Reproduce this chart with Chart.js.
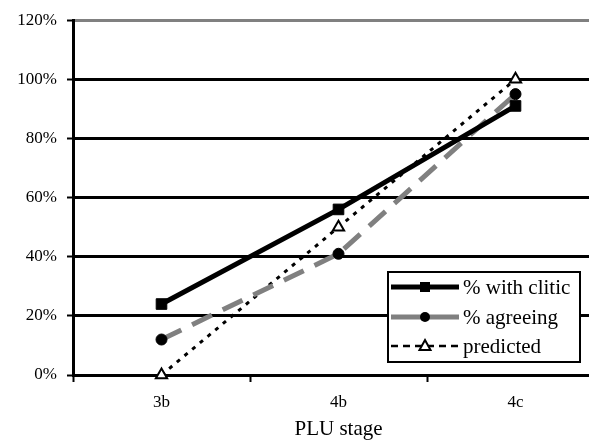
<!DOCTYPE html>
<html>
<head>
<meta charset="utf-8">
<script src="https://cdn.jsdelivr.net/npm/chart.js@4"></script>
<style>
  html, body { margin: 0; padding: 0; background: #fff; overflow: hidden; }
  /* the plot area runs past the right edge in the original, so the canvas is wider and clipped */
  #wrap { width: 589px; height: 440px; overflow: hidden; }
</style>
</head>
<body>
<div id="wrap"><canvas id="chart" width="620" height="440"></canvas></div>
<script>
// PLU stage chart data
const stages = ['3b', '4b', '4c'];
const withClitic = [24, 56, 91];
const agreeing = [12, 41, 95];
const predicted = [0, 50, 100];
const yTicks = [0, 20, 40, 60, 80, 100, 120];

const serif = '"Liberation Serif", "Times New Roman", serif';

// draw legend box inside the plot area, Excel style
const boxLegend = {
    id: 'boxLegend',
    afterDraw(chart) {
        const ctx = chart.ctx;
        const x0 = 388, y0 = 272, w = 192, h = 90;
        ctx.save();
        ctx.fillStyle = '#fff';
        ctx.fillRect(x0, y0, w, h);
        ctx.strokeStyle = '#000';
        ctx.lineWidth = 2;
        ctx.strokeRect(x0, y0, w, h);
        const rows = [287, 317, 346];
        chart.data.datasets.forEach((ds, i) => {
            const y = rows[i];
            ctx.strokeStyle = ds.borderColor;
            ctx.lineWidth = ds.legendWidth || ds.borderWidth;
            ctx.setLineDash(ds.legendDash || []);
            ctx.beginPath();
            ctx.moveTo(391, y);
            ctx.lineTo(459, y);
            ctx.stroke();
            ctx.setLineDash([]);
            // marker
            ctx.fillStyle = ds.pointBackgroundColor;
            ctx.strokeStyle = ds.pointBorderColor;
            ctx.lineWidth = ds.pointBorderWidth;
            const mx = 425;
            if (ds.pointStyle === 'rect') {
                ctx.fillRect(mx - 5, y - 5, 10, 10);
            } else if (ds.pointStyle === 'circle') {
                ctx.beginPath();
                ctx.arc(mx, y, 5, 0, Math.PI * 2);
                ctx.fill();
            } else {
                ctx.beginPath();
                ctx.moveTo(mx, y - 6);
                ctx.lineTo(mx + 5.5, y + 4);
                ctx.lineTo(mx - 5.5, y + 4);
                ctx.closePath();
                ctx.fill();
                ctx.stroke();
            }
            ctx.fillStyle = '#000';
            ctx.font = '21px ' + serif;
            ctx.textBaseline = 'middle';
            ctx.textAlign = 'left';
            ctx.fillText(ds.label, 463, y + 1);
        });
        ctx.restore();
    }
};

new Chart(document.getElementById('chart'), {
    type: 'line',
    data: {
        labels: stages,
        datasets: [
            {
                label: '% with clitic',
                data: withClitic,
                borderColor: '#000',
                borderWidth: 5,
                pointStyle: 'rect',
                pointRadius: 7.5,
                pointBackgroundColor: '#000',
                pointBorderColor: '#000',
                pointBorderWidth: 1,
                clip: false
            },
            {
                label: '% agreeing',
                data: agreeing,
                borderColor: '#808080',
                borderWidth: 5,
                borderDash: [22, 12],
                legendDash: [],
                pointStyle: 'circle',
                pointRadius: 5.5,
                pointBackgroundColor: '#000',
                pointBorderColor: '#000',
                pointBorderWidth: 1,
                clip: false
            },
            {
                label: 'predicted',
                data: predicted,
                borderColor: '#000',
                borderWidth: 3,
                borderDash: [4, 6],
                legendDash: [7, 5],
                legendWidth: 2.5,
                pointStyle: 'triangle',
                pointRadius: 6.5,
                pointBackgroundColor: '#fff',
                pointBorderColor: '#000',
                pointBorderWidth: 2,
                clip: false
            }
        ]
    },
    options: {
        responsive: false,
        animation: false,
        layout: { padding: { top: 20, right: 16, left: 0, bottom: 0 } },
        plugins: {
            legend: { display: false },
            tooltip: { enabled: false }
        },
        elements: { line: { tension: 0 } },
        scales: {
            x: {
                offset: true,
                afterFit(scale) { scale.height = 65; },
                grid: {
                    offset: true,
                    drawOnChartArea: false,
                    drawTicks: true,
                    tickLength: 7,
                    tickWidth: 2,
                    tickColor: '#000'
                },
                border: { display: true, color: '#000', width: 3 },
                ticks: {
                    color: '#000',
                    padding: 10,
                    font: { family: serif, size: 17 }
                },
                title: {
                    display: true,
                    text: 'PLU stage',
                    color: '#000',
                    padding: { top: 2, bottom: -2 },
                    font: { family: serif, size: 21 }
                }
            },
            y: {
                min: 0,
                max: 120,
                afterFit(scale) { scale.width = 73; },
                afterBuildTicks(scale) {
                    scale.ticks = yTicks.map(v => ({ value: v }));
                },
                grid: {
                    color: ctx => (ctx.tick && ctx.tick.value === 120) ? '#808080' : '#000',
                    lineWidth: 3,
                    drawTicks: true,
                    tickLength: 6,
                    tickColor: '#000',
                    tickWidth: 2
                },
                border: { display: true, color: '#000', width: 3 },
                ticks: {
                    color: '#000',
                    padding: 10,
                    font: { family: serif, size: 17 },
                    callback: v => v + '%'
                }
            }
        }
    },
    plugins: [boxLegend]
});
</script>
</body>
</html>
